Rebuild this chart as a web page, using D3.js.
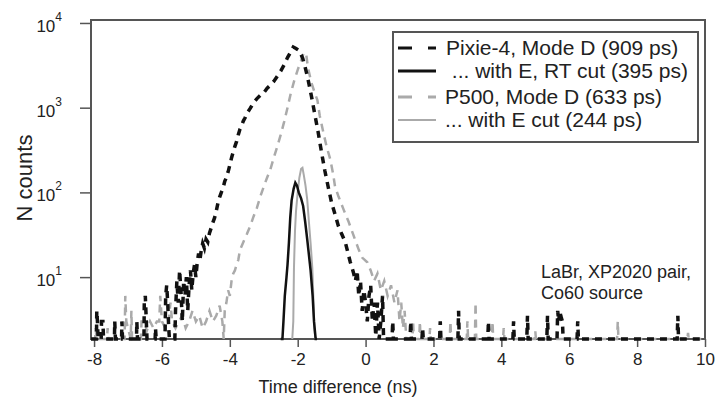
<!DOCTYPE html>
<meta charset="utf-8">
<script src="https://d3js.org/d3.v7.min.js"></script>
<style>
body { margin: 0; background: #fff; }
text { font-family: "Liberation Sans", Arial, sans-serif; fill: #222; }
</style>
<div id="my_dataviz"></div>
<script>
// time difference (ns), counts per bin ; 1 = empty bin (sits on the floor)
var pixieModeD = [
  [-8.09,1],[-7.93,1],[-7.92,4],[-7.90,3],[-7.88,1],[-7.79,1],[-7.78,3],[-7.74,3],[-7.72,1],
  [-7.40,1],[-7.39,3],[-7.37,1],[-7.19,1],[-7.18,3],[-7.16,1],[-6.75,1],[-6.74,3],[-6.72,1],
  [-6.53,1],[-6.52,5],[-6.49,6],[-6.46,3],[-6.44,1],[-6.20,1],[-6.19,2.5],[-6.17,1],
  [-5.91,1],[-5.89,6],[-5.86,8],[-5.83,5],[-5.80,2.5],[-5.78,1],[-5.62,1],[-5.60,4],[-5.56,9],
  [-5.52,5],[-5.48,12],[-5.44,7],[-5.40,3],[-5.36,9],[-5.32,6],[-5.28,10],[-5.24,4],[-5.20,8],
  [-5.16,12],[-5.12,7],[-5.08,11],[-5.04,14],[-5.00,10],[-4.96,15],[-4.92,19],[-4.88,16],
  [-4.84,21],[-4.80,25],[-4.75,22],[-4.70,28],[-4.65,26],[-4.60,33],[-4.55,38],[-4.50,44],
  [-4.45,50],[-4.40,60],[-4.35,75],[-4.30,88],[-4.25,100],[-4.20,112],[-4.15,135],[-4.10,150],
  [-4.05,175],[-4.00,210],[-3.95,255],[-3.90,300],[-3.85,350],[-3.80,400],[-3.75,480],
  [-3.70,560],[-3.65,620],[-3.60,700],[-3.55,760],[-3.50,850],[-3.40,980],[-3.30,1150],
  [-3.20,1280],[-3.10,1400],[-3.00,1500],[-2.90,1700],[-2.80,1850],[-2.70,2050],[-2.60,2350],
  [-2.50,2700],[-2.40,3200],[-2.30,3900],[-2.20,4600],[-2.13,5200],[-2.05,5000],[-1.95,4700],
  [-1.85,3800],[-1.78,3000],[-1.70,2200],[-1.60,1400],[-1.50,850],[-1.40,520],[-1.30,300],
  [-1.20,180],[-1.10,115],[-1.00,75],[-0.90,55],[-0.80,40],[-0.70,32],[-0.60,26],[-0.50,18],
  [-0.45,15],[-0.40,13],[-0.35,11],[-0.30,9],[-0.25,12],[-0.20,6],[-0.15,9],[-0.10,4],
  [-0.05,7],[0.00,5],[0.05,3],[0.10,6],[0.15,8],[0.20,3],[0.25,5],[0.30,2],[0.35,5],[0.40,1],
  [0.45,3],[0.50,6],[0.53,1],[0.78,1],[0.80,3],[0.82,1],[1.31,1],[1.33,3],[1.35,1],
  [1.66,1],[1.68,2.5],[1.70,1],[2.18,1],[2.20,3],[2.22,1],[2.72,1],[2.74,4],[2.76,1],
  [3.60,1],[3.62,3],[3.64,1],[4.34,1],[4.36,3],[4.38,1],[4.75,1],[4.77,3.5],[4.79,1],
  [5.34,1],[5.36,3.5],[5.38,1],[5.64,1],[5.66,4],[5.69,3],[5.72,4],[5.75,3.5],[5.80,3],
  [5.82,1],[6.23,1],[6.25,3],[6.27,1],[9.18,1],[9.20,3.5],[9.22,1],[10.0,1]
];
var pixieCut = [
  [-2.50,1],[-2.45,1.5],[-2.42,3],[-2.38,6],[-2.33,10],[-2.30,14],[-2.26,25],[-2.22,50],
  [-2.18,80],[-2.12,110],[-2.07,130],[-2.02,120],[-1.97,100],[-1.90,85],[-1.84,69],
  [-1.78,45],[-1.72,28],[-1.68,20],[-1.62,12],[-1.56,6],[-1.52,3],[-1.47,1.5],[-1.43,1]
];
var p500ModeD = [
  [-8.09,1],[-7.97,1],[-7.95,2.5],[-7.93,1],[-7.62,1],[-7.60,2.5],[-7.58,1],[-7.10,1],
  [-7.08,6],[-7.05,3],[-6.92,1],[-6.90,4],[-6.88,1],[-6.62,1],[-6.60,3],[-6.50,3],[-6.45,2.3],
  [-6.35,3],[-6.25,2.5],[-6.15,3],[-6.08,3],[-6.05,6],[-6.00,3],[-5.90,2.5],[-5.80,3],
  [-5.75,5],[-5.70,3],[-5.60,2.5],[-5.50,3],[-5.40,3.5],[-5.30,2.5],[-5.20,3],[-5.10,4],
  [-5.00,3],[-4.90,3.5],[-4.80,2.5],[-4.70,3],[-4.60,4],[-4.50,3],[-4.40,3.5],[-4.30,4.6],
  [-4.22,3],[-4.18,1],[-4.15,4],[-4.10,5],[-4.05,7],[-4.00,6],[-3.95,9],[-3.90,11],
  [-3.85,12],[-3.80,14],[-3.75,16],[-3.70,21],[-3.60,26],[-3.50,32],[-3.40,40],[-3.30,52],
  [-3.20,66],[-3.10,90],[-3.00,117],[-2.90,150],[-2.80,190],[-2.70,260],[-2.60,350],
  [-2.50,480],[-2.40,680],[-2.30,1000],[-2.20,1500],[-2.10,2100],[-2.00,2800],[-1.90,3600],
  [-1.82,4500],[-1.75,4300],[-1.70,3000],[-1.60,2000],[-1.50,1500],[-1.42,1230],[-1.35,800],
  [-1.24,500],[-1.15,350],[-1.04,245],[-0.95,160],[-0.90,117],[-0.80,90],[-0.65,63],
  [-0.50,45],[-0.39,34],[-0.30,27],[-0.20,21],[-0.10,17],[0.05,15],[0.15,12],[0.25,9],
  [0.35,11],[0.45,7],[0.55,9],[0.65,6],[0.75,8],[0.85,5],[0.94,7],[1.00,3],[1.05,5],
  [1.10,2.5],[1.15,4],[1.20,1],[1.38,1],[1.40,3],[1.42,1],[1.58,1],[1.60,3],[1.62,1],
  [1.88,1],[1.90,2.5],[1.92,1],[2.48,1],[2.50,3],[2.52,1],[2.98,1],[3.00,3],[3.02,1],
  [3.22,1],[3.24,5],[3.26,1],[3.72,1],[3.74,3],[3.76,1],[4.05,1],[4.07,2.5],[4.09,1],
  [4.98,1],[5.00,2.3],[5.02,1],[7.41,1],[7.43,3],[7.45,1],[9.48,1],[9.50,2.2],[9.52,1],[10.0,1]
];
var p500Cut = [
  [-2.16,1],[-2.13,3],[-2.11,13],[-2.08,35],[-2.05,60],[-2.00,100],[-1.95,150],[-1.90,190],
  [-1.86,195],[-1.82,160],[-1.77,120],[-1.72,83],[-1.67,45],[-1.62,25],[-1.57,13],
  [-1.54,6],[-1.51,2.5],[-1.48,1]
];
var legendLabels = ["Pixie-4, Mode D (909 ps)", " ... with E, RT cut (395 ps)",
                    "P500, Mode D (633 ps)", "... with E cut (244 ps)"];
var noteLines = ["LaBr, XP2020 pair,", "Co60 source"];
var xTicks = [-8, -6, -4, -2, 0, 2, 4, 6, 8, 10];
var xMinorTicks = [-7, -5, -3, -1, 1, 3, 5, 7, 9];
var yTicks = [10, 100, 1000, 10000];

var margin = {top: 20, right: 11, bottom: 66, left: 91},
    width = 716 - margin.left - margin.right,
    height = 405 - margin.top - margin.bottom;

var root = d3.select("#my_dataviz")
  .append("svg")
    .attr("width", 716)
    .attr("height", 405);
var svg = root.append("g")
    .attr("transform", "translate(" + margin.left + "," + margin.top + ")");

var x = d3.scaleLinear().domain([-8.09, 10.0]).range([0, width]);
var y = d3.scaleLog().domain([1.86, 10840]).range([height, 0]).clamp(true);

// y minor ticks 2..9 per decade
var yMinor = [];
[1, 10, 100, 1000].forEach(function(d) {
  for (var k = 2; k <= 9; k++) if (d * k >= 1.86) yMinor.push(d * k);
});

var axisColor = "#555";

var gx = svg.append("g").attr("transform", "translate(0," + height + ")");
gx.call(d3.axisBottom(x).tickValues(xMinorTicks).tickSize(4).tickFormat(""));
gx.call(d3.axisBottom(x).tickValues(xTicks).tickSize(8).tickPadding(6)
  .tickFormat(function(d) { return d; }));
gx.selectAll(".domain").remove();
gx.selectAll("line").attr("stroke", axisColor).attr("stroke-width", 1.5);
gx.selectAll("text").style("font-size", "17px").style("font-family", "Liberation Sans, Arial").attr("fill", "#222");

var gy = svg.append("g");
gy.call(d3.axisLeft(y).tickValues(yMinor).tickSize(6).tickFormat(""));
gy.call(d3.axisLeft(y).tickValues(yTicks).tickSize(11).tickFormat(""));
gy.selectAll(".domain").remove();
gy.selectAll("line").attr("stroke", axisColor).attr("stroke-width", 1.5);

// 10^n labels
var lab = svg.append("g").selectAll("text").data(yTicks).enter().append("text")
  .attr("x", -29).attr("y", function(d) { return y(d) + 9; })
  .attr("text-anchor", "end")
  .style("font-size", "17px");
lab.append("tspan").text("10");
lab.append("tspan").attr("dy", -11).style("font-size", "12px")
  .text(function(d) { return Math.round(Math.log10(d)); });

// frame
svg.append("rect").attr("width", width).attr("height", height)
  .attr("fill", "none").attr("stroke", axisColor).attr("stroke-width", 2);

// curves
var line = d3.line()
  .x(function(d) { return x(d[0]); })
  .y(function(d) { return y(d[1]); });

var curves = [
  {data: p500ModeD, color: "#aaa", w: 2.5, dash: "8,6"},
  {data: p500Cut, color: "#aaa", w: 2, dash: null},
  {data: pixieModeD, color: "#111", w: 3.5, dash: "7,6"},
  {data: pixieCut, color: "#111", w: 2.5, dash: null}
];
curves.forEach(function(c) {
  svg.append("path").datum(c.data)
    .attr("d", line)
    .attr("fill", "none")
    .attr("stroke", c.color)
    .attr("stroke-width", c.w)
    .attr("stroke-dasharray", c.dash);
});

// legend
var leg = root.append("g");
leg.append("rect").attr("x", 393).attr("y", 32).attr("width", 305).attr("height", 110)
  .attr("fill", "#fff").attr("stroke", axisColor).attr("stroke-width", 2);
var legStyle = [
  {color: "#111", w: 3, dash: "14,16", yy: 48, tx: 446},
  {color: "#111", w: 3, dash: null, yy: 71, tx: 446},
  {color: "#aaa", w: 3, dash: "14,16", yy: 97, tx: 445},
  {color: "#aaa", w: 2, dash: null, yy: 120, tx: 445}
];
legStyle.forEach(function(s, i) {
  leg.append("line").attr("x1", 398).attr("x2", 436).attr("y1", s.yy).attr("y2", s.yy)
    .attr("stroke", s.color).attr("stroke-width", s.w).attr("stroke-dasharray", s.dash);
  leg.append("text").attr("x", s.tx).attr("y", s.yy + 7)
    .attr("xml:space", "preserve")
    .style("white-space", "pre")
    .style("font-size", "21px").text(legendLabels[i]);
});

// note
root.append("g").selectAll("text").data(noteLines).enter().append("text")
  .attr("x", 541).attr("y", function(d, i) { return 278 + i * 21; })
  .style("font-size", "18px").attr("fill", "#444").text(function(d) { return d; });

// axis titles
root.append("text").attr("x", 338).attr("y", 393).attr("text-anchor", "middle")
  .style("font-size", "18px").text("Time difference (ns)");
root.append("text").attr("transform", "translate(32,178) rotate(-90)")
  .attr("text-anchor", "middle").style("font-size", "22px").text("N counts");
</script>
